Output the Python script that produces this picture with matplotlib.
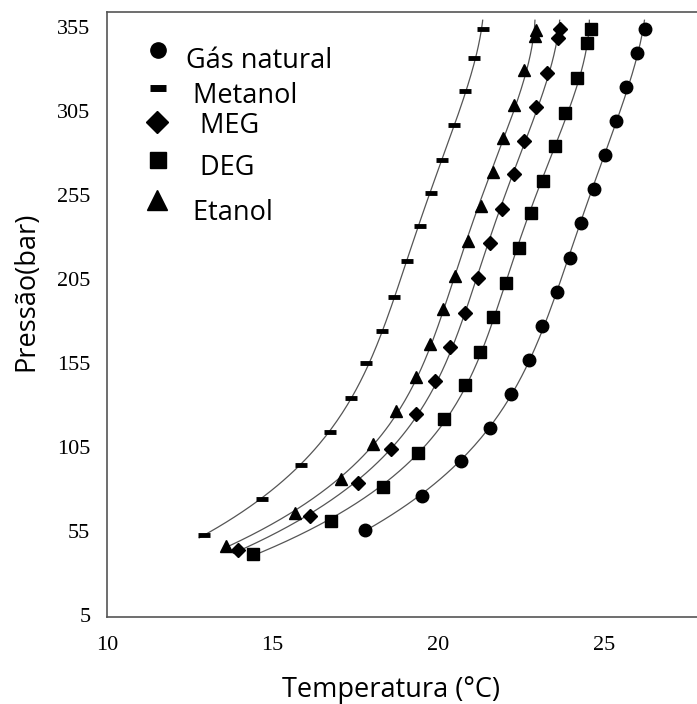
import numpy as np
import matplotlib
matplotlib.use('Agg')
import matplotlib.pyplot as plt

# pressao (bar) e temperatura (C)
gas_T = [17.77, 19.50, 20.67, 21.54, 22.18, 22.74, 23.12, 23.57, 23.96, 24.31, 24.68, 25.02, 25.36, 25.67, 25.99, 26.22]
gas_P = [55.6, 75.8, 96.7, 116.5, 136.8, 157.0, 177.2, 197.3, 217.3, 238.5, 258.8, 279.0, 299.0, 319.5, 339.7, 353.6]

met_T = [12.93, 14.67, 15.85, 16.73, 17.36, 17.82, 18.30, 18.67, 19.06, 19.43, 19.78, 20.11, 20.47, 20.79, 21.08, 21.34]
met_P = [52.9, 74.2, 94.2, 114.0, 134.0, 154.8, 174.2, 194.5, 215.7, 236.5, 256.4, 275.8, 296.7, 316.9, 336.4, 353.6]

meg_T = [13.94, 16.12, 17.56, 18.57, 19.31, 19.89, 20.36, 20.79, 21.20, 21.56, 21.92, 22.27, 22.59, 22.95, 23.27, 23.62, 23.66]
meg_P = [43.7, 63.9, 83.7, 103.8, 124.6, 144.3, 164.7, 184.6, 205.4, 226.6, 246.5, 267.5, 287.3, 307.2, 327.4, 348.6, 354.0]

deg_T = [14.41, 16.77, 18.32, 19.37, 20.16, 20.79, 21.26, 21.65, 22.05, 22.44, 22.80, 23.15, 23.53, 23.82, 24.18, 24.49, 24.60]
deg_P = [41.3, 61.0, 81.2, 101.2, 121.7, 141.9, 161.7, 182.4, 202.6, 223.6, 244.1, 263.5, 284.3, 304.0, 324.5, 345.3, 353.6]

eta_T = [13.60, 15.68, 17.05, 18.04, 18.73, 19.33, 19.73, 20.15, 20.51, 20.89, 21.27, 21.64, 21.94, 22.28, 22.58, 22.90, 22.93]
eta_P = [46.2, 65.9, 85.8, 106.6, 126.6, 146.8, 166.3, 187.1, 206.8, 227.8, 248.5, 268.5, 288.7, 308.6, 329.4, 349.6, 353.2]

labels = ['Gás natural', ' Metanol', '  MEG', '  DEG', ' Etanol']
xticks = [10, 15, 20, 25]
yticks = [5, 55, 105, 155, 205, 255, 305, 355]

sans = ['Open Sans', 'DejaVu Sans']
serif = 'Liberation Serif'

fig = plt.figure(figsize=(6.97, 7.04), dpi=100)
ax = fig.add_axes([107/697, 87/704, 590/697, 605/704])

series = [
    (gas_T, gas_P, dict(marker='o', ms=9), 0),
    (met_T, met_P, dict(marker='_', ms=9, mew=3.5), 2),
    (meg_T, meg_P, dict(marker='D', ms=7.5), 2),
    (deg_T, deg_P, dict(marker='s', ms=8.5), 2),
    (eta_T, eta_P, dict(marker='^', ms=9), 0),
]

for T, P, style, ext in series:
    T = np.array(T)
    P = np.array(P)
    c = np.polyfit(P, T, 4)
    pp = np.linspace(P[0] - ext, 359, 200)
    ax.plot(np.polyval(c, pp), pp, color='#555555', lw=0.9, zorder=2)
    ax.plot(T, P, linestyle='none', color='black', zorder=3, **style)

# legenda manual
leg_marks = [
    (0.0864, 0.937, dict(marker='o', ms=11)),
    (0.0864, 0.874, dict(marker='_', ms=11, mew=5)),
    (0.085, 0.818, dict(marker='D', ms=11)),
    (0.0864, 0.755, dict(marker='s', ms=12)),
    (0.085, 0.690, dict(marker='^', ms=14)),
]
leg_text = [(0.134, 0.907), (0.134, 0.849), (0.134, 0.800), (0.134, 0.730), (0.134, 0.656)]
for (mx, my, st), (tx, ty), lab in zip(leg_marks, leg_text, labels):
    ax.plot([mx], [my], color='black', transform=ax.transAxes, clip_on=False, **st)
    ax.text(tx, ty, lab, transform=ax.transAxes, fontsize=19.5, family=sans,
            va='baseline', ha='left')

ax.set_xlim(10, 27.8)
ax.set_ylim(3.8, 363.9)
ax.set_xticks(xticks)
ax.set_yticks(yticks)
ax.tick_params(length=0, labelsize=16)
ax.tick_params(axis='y', pad=12)
ax.tick_params(axis='x', pad=14)
for lab in ax.get_xticklabels() + ax.get_yticklabels():
    lab.set_family(serif)

ax.spines['right'].set_visible(False)
for s in ['left', 'bottom', 'top']:
    ax.spines[s].set_color('#555555')
    ax.spines[s].set_linewidth(1.2)

ax.set_xlabel('Temperatura (°C)', fontsize=19.5, family=sans)
ax.set_ylabel('Pressão(bar)', fontsize=19.5, family=sans)
ax.xaxis.set_label_coords(0.481, -0.12)
ax.yaxis.set_label_coords(-0.137, 0.539)
ax.xaxis.label.set_va('center')
ax.yaxis.label.set_va('center')

fig.savefig('out.png', dpi=100)
